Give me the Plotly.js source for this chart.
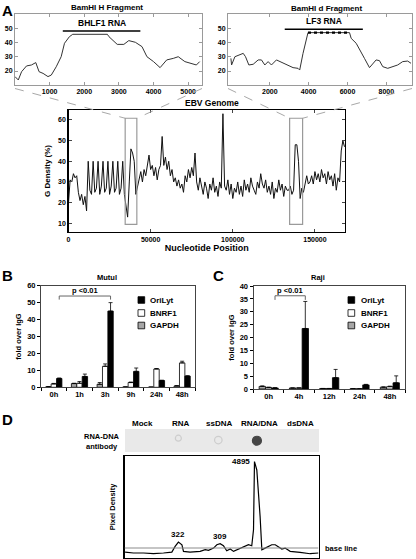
<!DOCTYPE html>
<html><head><meta charset="utf-8">
<script src="https://cdn.plot.ly/plotly-3.0.1.min.js"></script>
<style>html,body{margin:0;padding:0;background:#fff}#chart{width:416px;height:559px}</style>
</head><body><div id="chart"></div>
<script>
// ---------- Panel A: BamHI H fragment ----------
const hPos = [0,95,190,333,476,600,695,810,952,1048,1190,1333,1429,1571,1667,2000,2300,2667,2714,2952,3143,3286,3476,3667,3810,4000,4190,4381,4571,4714,4905,5095,5238,5333];
const hG   = [16,13.6,19.5,23.6,24.3,26,19.5,18.3,16,17.1,23,30.2,39.8,44.5,46.2,46.2,46.2,46.2,44.5,39,39,41.7,40.5,37.4,30.2,26.7,22.4,27.9,29,30.2,26.7,25.5,24.3,26.7];
const bhlf1Span = [1380, 3620];
const bhlf1Level = 48.6;
// ---------- Panel A: BamHI d fragment ----------
const dPos = [0,34,205,462,633,752,923,1146,1402,1573,1744,1915,2086,2343,2514,2685,2941,3198,3454,3540,3711,3967,6105,6190,6447,6618,6874,7131,7302,7473,7644,7815,8071,8328,8584,8841,9097,9268];
const dG   = [29,24.3,30.2,31.9,32.6,30.2,24.3,24.8,27.9,27.9,24.3,26.7,24.3,27.9,26.7,25.5,24.3,22.4,21.9,20.7,32.6,47.4,47.4,43.3,39.8,35,29,22.4,25.5,27.9,27.4,23.1,21.9,23.1,24.3,26.7,27.1,25.5];
const lf3Plateau = [3967, 6105];
const lf3PlateauLevel = 47.4;
const lf3Span = [2770, 6790];
const lf3Level = 49.8;
// ---------- Panel A: EBV genome (1 kb steps) ----------
const genomeStep = 1000;
const genomeG = [
20,31,30,34,32,33,25,21,24,19,
23,16,40,26,24,40,25,27,40,24,
28,40,25,27,40,24,28,40,25,27,
40,24,27,40,24,18,13,30,46,44,
40,24,28,32,35,30,36,33,38,43,
36,38,33,37,31,36,38,52,38,42,
36,40,33,36,30,32,28,31,27,29,
25,33,30,36,32,37,33,44,30,26,
32,28,24,30,27,22,29,26,32,25,
28,23,30,27,63,28,26,31,24,29,
22,27,25,30,24,28,23,31,26,29,
25,32,28,26,24,30,27,34,29,27,
31,25,28,24,30,22,27,25,31,26,
29,23,28,26,26,28,24,26,48,48,
40,22,27,25,30,33,29,30,33,29,
35,31,34,30,36,32,34,29,35,31,
33,28,34,26,32,30,45,50,47];
const genomeLength = 168300;
const fragH = [34500, 41600];
const fragD = [134600, 142500];
const fragBoxY = [9.5, 60.8];
// ---------- Panel B: Mutu I ----------
const timesB = ['0h','1h','3h','9h','24h','48h'];
const mutuOriLyt    = [5.2,6.4,45,9.4,4.0,6.6];
const mutuOriLytErr = [0.3,1.4,5.0,2.0,0.2,0.2];
const mutuBNRF1     = [2.0,2.4,12.4,2.8,10.8,14.4];
const mutuBNRF1Err  = [0.3,1.0,1.4,0.3,0.3,1.0];
const mutuGAPDH     = [0.3,2.2,1.8,0.2,0.1,0.8];
const mutuGAPDHErr  = [0.1,0.2,1.0,0,0,0.2];
// ---------- Panel C: Raji ----------
const timesC = ['0h','4h','12h','24h','48h'];
const rajiOriLyt    = [0.4,23.5,4.4,1.6,2.4];
const rajiOriLytErr = [0.1,10.5,3.2,0.2,2.7];
const rajiBNRF1     = [0.6,0.4,0.2,0.1,0.9];
const rajiBNRF1Err  = [0.1,0,0,0,0.2];
const rajiGAPDH     = [1.0,0.4,0.2,0.1,0.7];
const rajiGAPDHErr  = [0.2,0,0,0,0.1];
// ---------- Panel D ----------
const lanes = ['Mock','RNA','ssDNA','RNA/DNA','dsDNA'];
const laneX = [8.9,28.7,48.5,69.1,90.5];
const spotX = [27.5,48.1,68.0];
const spotY = [0.6,0.52,0.49];
const spotSignal = [322,309,4895];
const scanX = [0.3,4.6,9.8,14.9,20.1,24.4,26.1,27.8,29.6,30.4,33.8,39.0,41.6,43.3,45.9,47.6,49.3,51.0,52.7,54.5,56.2,58.8,61.3,63.9,65.6,66.5,67.0,68.2,69.9,70.8,72.5,74.2,75.9,77.7,79.4,81.1,82.8,85.4,90.5,95.7,100];
const scanY = [5.8,4.9,4.9,4.2,4.9,5.8,11.4,15.6,13.0,6.5,5.8,6.5,8.1,7.5,9.7,13.0,14.0,12.0,7.1,8.8,6.5,8.8,11.4,13.0,12.0,27.7,94.5,86.3,40.7,8.1,9.7,11.4,13.0,13.0,10.7,8.8,9.7,6.5,5.5,4.2,4.9];
const peakLabels = ['322','309','4895'];
const peakX = [27.8,49.3,67.0];
const peakY = [15.6,14.0,94.5];
const baselineLevel = 9.8;

// ================= layout helpers =================
const W = 416, H = 559;
const px = v => v / W;
const py = v => 1 - v / H;
const FONT = '"Liberation Sans", Arial, Helvetica, sans-serif';
const f = (size, extra) => Object.assign({family: FONT, size: size, color: '#000', weight: 'bold'}, extra || {});
const BARGAP = 0.37;

const dom = {
  x1: [px(15), px(202)],   y1: [py(85), py(14)],
  x2: [px(228), px(412)],  y2: [py(85), py(14)],
  x3: [px(68.5), px(345)], y3: [py(232), py(110)],
  x4: [px(41), px(195)],   y4: [py(387.3), py(285.7)],
  x5: [px(253.5), px(405)],y5: [py(389), py(286)],
  x6: [px(125), px(319)],  y6: [py(452), py(429)],
  x7: [px(124.5), px(318.5)], y7: [py(558), py(456)]
};
const r3x = [0, genomeLength], r3y = [5.8, 64.8];

const zeros = a => a.map(() => 0);
const genomeX = genomeG.map((_, i) => i * genomeStep);

const traces = [];
traces.push({x: hPos, y: hG, xaxis: 'x', yaxis: 'y', type: 'scatter', mode: 'lines', line: {color: '#333', width: 1}, showlegend: false});
traces.push({x: dPos, y: dG, xaxis: 'x2', yaxis: 'y2', type: 'scatter', mode: 'lines', line: {color: '#333', width: 1}, showlegend: false});
traces.push({x: lf3Plateau, y: [lf3PlateauLevel, lf3PlateauLevel], xaxis: 'x2', yaxis: 'y2', type: 'scatter', mode: 'lines', line: {color: '#000', width: 2.4, dash: 'dot'}, showlegend: false});
traces.push({x: genomeX, y: genomeG, xaxis: 'x3', yaxis: 'y3', type: 'scatter', mode: 'lines', line: {color: '#111', width: 1}, showlegend: false});

const seriesNames = ['GAPDH', 'BNRF1', 'OriLyt'];
const seriesFill = ['#a6a6a6', '#ffffff', '#000000'];
const mutu = [[mutuGAPDH, mutuGAPDHErr], [mutuBNRF1, mutuBNRF1Err], [mutuOriLyt, mutuOriLytErr]];
const raji = [[rajiGAPDH, rajiGAPDHErr], [rajiBNRF1, rajiBNRF1Err], [rajiOriLyt, rajiOriLytErr]];
function bar(cats, vals, err, i, xa, ya) {
  return {type: 'bar', x: cats, y: vals, xaxis: xa, yaxis: ya, name: seriesNames[i], showlegend: false,
    marker: {color: seriesFill[i], line: {color: '#000', width: 0.8}},
    error_y: {type: 'data', symmetric: false, array: err, arrayminus: zeros(err), color: '#000', thickness: 0.8, width: 2}};
}
mutu.forEach((s, i) => traces.push(bar(timesB, s[0], s[1], i, 'x4', 'y4')));
raji.forEach((s, i) => traces.push(bar(timesC, s[0], s[1], i, 'x5', 'y5')));

traces.push({x: spotX, y: spotY, xaxis: 'x6', yaxis: 'y6', type: 'scatter', mode: 'markers', showlegend: false,
  marker: {size: spotSignal.map(s => s > 1000 ? 9 : (s > 315 ? 6 : 7.5)),
    color: spotSignal.map(s => s > 1000 ? '#000' : 'rgba(0,0,0,0)'),
    line: {color: spotSignal.map(s => s > 1000 ? '#000' : '#c2c2c2'), width: 1.2}}});
traces.push({x: scanX, y: scanY, xaxis: 'x7', yaxis: 'y7', type: 'scatter', mode: 'lines', line: {color: '#000', width: 1.2}, showlegend: false});

// ---------- axes ----------
const topAx = (d, extra) => Object.assign({domain: d, showgrid: false, zeroline: false, showline: true, mirror: 'ticks', linecolor: '#9a9a9a', linewidth: 1,
  ticks: 'inside', ticklen: 3, tickcolor: '#9a9a9a', tickfont: f(7), exponentformat: 'none'}, extra);
const barY = (d, range, dtick, anchor) => ({domain: d, range: range, dtick: dtick, anchor: anchor, showgrid: false, zeroline: false, showline: true, mirror: true,
  linecolor: '#444', linewidth: 1, ticks: 'outside', ticklen: 3, tickcolor: '#000', tickfont: f(7.5),
  title: {text: 'fold over IgG', font: f(7.5), standoff: 4}});
const barX = (d, n, anchor) => ({domain: d, type: 'category', range: [-0.5, n - 0.5], anchor: anchor, showgrid: false, zeroline: false, showline: true, mirror: true,
  linecolor: '#444', linewidth: 1, ticks: 'outside', tickson: 'boundaries', ticklen: 3, tickcolor: '#000', tickfont: f(7.5)});

const layout = {
  width: W, height: H, margin: {l: 0, r: 0, t: 0, b: 0}, paper_bgcolor: '#fff', plot_bgcolor: 'rgba(0,0,0,0)',
  barmode: 'group', bargap: BARGAP, bargroupgap: 0, showlegend: false, font: f(8),
  xaxis: topAx(dom.x1, {range: [0, 5400], tickvals: [1000, 2000, 3000, 4000, 5000], anchor: 'y'}),
  yaxis: topAx(dom.y1, {range: [10, 60.7], tickvals: [20, 30, 40, 50], anchor: 'x'}),
  xaxis2: topAx(dom.x2, {range: [-150, 9320], tickvals: [2000, 4000, 6000, 8000], anchor: 'y2'}),
  yaxis2: topAx(dom.y2, {range: [10, 60.7], tickvals: [20, 30, 40, 50], anchor: 'x2'}),
  xaxis3: {domain: dom.x3, range: r3x, anchor: 'y3', tickvals: [0, 50000, 100000, 150000], tickformat: 'd', exponentformat: 'none', showgrid: false, zeroline: false, showline: true, mirror: 'ticks',
    linecolor: '#000', linewidth: 1.2, ticks: 'inside', ticklen: 3, tickfont: f(7), title: {text: 'Nucleotide Position', font: f(9), standoff: 3}},
  yaxis3: {domain: dom.y3, range: r3y, anchor: 'x3', tickvals: [10, 20, 30, 40, 50, 60], showgrid: false, zeroline: false, showline: true, mirror: 'ticks',
    linecolor: '#000', linewidth: 1.2, ticks: 'inside', ticklen: 3, tickfont: f(7), title: {text: 'G Density (%)', font: f(8), standoff: 6}},
  xaxis4: barX(dom.x4, timesB.length, 'y4'),
  yaxis4: barY(dom.y4, [0, 60], 10, 'x4'),
  xaxis5: barX(dom.x5, timesC.length, 'y5'),
  yaxis5: barY(dom.y5, [0, 40], 5, 'x5'),
  xaxis6: {domain: dom.x6, range: [0, 100], anchor: 'y6', visible: false},
  yaxis6: {domain: dom.y6, range: [0, 1], anchor: 'x6', visible: false},
  xaxis7: {domain: dom.x7, range: [0, 100], anchor: 'y7', showgrid: false, zeroline: false, showline: true, mirror: true, linecolor: '#000', linewidth: 1.3, showticklabels: false, ticks: ''},
  yaxis7: {domain: dom.y7, range: [0, 100], anchor: 'x7', showgrid: false, zeroline: false, showline: true, mirror: true, linecolor: '#000', linewidth: 1.3, showticklabels: false, ticks: '',
    title: {text: 'Pixel Density', font: f(7.5), standoff: 6}},
  shapes: [], annotations: []
};

// genome data -> paper coords (for connector lines)
const gx = v => dom.x3[0] + (v - r3x[0]) / (r3x[1] - r3x[0]) * (dom.x3[1] - dom.x3[0]);
const gy = v => dom.y3[0] + (v - r3y[0]) / (r3y[1] - r3y[0]) * (dom.y3[1] - dom.y3[0]);

// transcript spans
layout.shapes.push({type: 'line', xref: 'x', yref: 'y', x0: bhlf1Span[0], x1: bhlf1Span[1], y0: bhlf1Level, y1: bhlf1Level, line: {color: '#000', width: 1.5}});
layout.shapes.push({type: 'line', xref: 'x2', yref: 'y2', x0: lf3Span[0], x1: lf3Span[1], y0: lf3Level, y1: lf3Level, line: {color: '#000', width: 1.5}});
// fragment boxes on genome
[fragH, fragD].forEach(fr => layout.shapes.push({type: 'rect', xref: 'x3', yref: 'y3', x0: fr[0], x1: fr[1], y0: fragBoxY[0], y1: fragBoxY[1], line: {color: '#9a9a9a', width: 1.2}}));
// dashed connectors
const connectY = py(88.5);
[[dom.x1[0], fragH[0]], [dom.x1[1], fragH[1]], [dom.x2[0], fragD[0]], [dom.x2[1], fragD[1]]].forEach(c => layout.shapes.push({
  type: 'line', xref: 'paper', yref: 'paper', x0: c[0], y0: connectY, x1: gx(c[1]), y1: gy(fragBoxY[1]), line: {color: '#a8a8a8', width: 1, dash: 'dash'}}));
// blot background
layout.shapes.push({type: 'rect', xref: 'x6', yref: 'y6', x0: 0, x1: 100, y0: 0, y1: 1, fillcolor: '#e9e9e9', line: {width: 0}, layer: 'below'});
// baseline
layout.shapes.push({type: 'line', xref: 'x7', yref: 'y7', x0: 0, x1: 100, y0: baselineLevel, y1: baselineLevel, line: {color: '#8c8c8c', width: 1.2}});

// significance brackets (OriLyt bars)
const bw = (1 - BARGAP) / 3;
function bracket(xa, ya, i0, i1, top, leg) {
  const a = i0 + bw, b = i1 + bw;
  layout.shapes.push({type: 'path', xref: xa, yref: ya, path: `M ${a} ${leg} L ${a} ${top} L ${b} ${top} L ${b} ${leg}`, line: {color: '#666', width: 1}});
  layout.annotations.push({xref: xa, yref: ya, x: (a + b) / 2, y: top, text: 'p <0.01', showarrow: false, yanchor: 'bottom', yshift: -1, font: f(7.5)});
}
bracket('x4', 'y4', 0, 2, 53.9, 51.8);
bracket('x5', 'y5', 0, 1, 36.2, 34.6);

// custom legends
const legendOrder = [2, 1, 0];
function legend(sx, tx, rows) {
  legendOrder.forEach((si, k) => {
    const cy = rows[k];
    layout.shapes.push({type: 'rect', xref: 'paper', yref: 'paper', x0: px(sx), x1: px(sx + 6.7), y0: py(cy + 3.3), y1: py(cy - 3.3),
      fillcolor: seriesFill[si], line: {color: '#000', width: 0.8}});
    layout.annotations.push({xref: 'paper', yref: 'paper', x: px(tx), y: py(cy), text: seriesNames[si], showarrow: false, xanchor: 'left', yanchor: 'middle', font: f(8)});
  });
}
legend(138, 148, [300, 313, 325.5]);
legend(348, 358.5, [300, 313, 325.5]);

// text annotations
const A = (x, y, text, size, extra) => layout.annotations.push(Object.assign({xref: 'paper', yref: 'paper', x: px(x), y: py(y), text: text, showarrow: false,
  xanchor: 'center', yanchor: 'middle', font: f(size)}, extra || {}));
A(0, 0, 'A', 15, {xanchor: 'left', yanchor: 'top'});
A(0, 265, 'B', 15, {xanchor: 'left', yanchor: 'top'});
A(211, 265, 'C', 15, {xanchor: 'left', yanchor: 'top'});
A(0, 409, 'D', 15, {xanchor: 'left', yanchor: 'top'});
A(107, 8, 'BamHI H Fragment', 8);
A(326, 9, 'BamHI d Fragment', 8);
A(211.7, 103.5, 'EBV Genome', 8.5);
A(107, 277, 'Mutul', 7.5);
A(318, 278, 'Raji', 7.5);
A(102, 436.5, 'RNA-DNA', 7.5);
A(102, 446.5, 'antibody', 7.5);
layout.annotations.push({xref: 'x', yref: 'y', x: (bhlf1Span[0] + bhlf1Span[1]) / 2, y: bhlf1Level, text: 'BHLF1 RNA', showarrow: false, yanchor: 'bottom', yshift: 1, font: f(8.5)});
layout.annotations.push({xref: 'x2', yref: 'y2', x: (lf3Span[0] + lf3Span[1]) / 2, y: lf3Level, text: 'LF3 RNA', showarrow: false, yanchor: 'bottom', yshift: 1, font: f(8.5)});
lanes.forEach((l, i) => layout.annotations.push({xref: 'x6', yref: 'paper', x: laneX[i], y: py(423.5), text: l, showarrow: false, yanchor: 'middle', font: f(8)}));
peakLabels.forEach((t, i) => layout.annotations.push({xref: 'x7', yref: 'y7', x: peakX[i], y: peakY[i], text: t, showarrow: false,
  xanchor: i === 2 ? 'right' : 'center', yanchor: i === 2 ? 'middle' : 'bottom', xshift: i === 2 ? -2 : 0, yshift: i === 2 ? 0 : 1, font: f(8)}));
layout.annotations.push({xref: 'paper', yref: 'y7', x: px(323), y: baselineLevel, text: 'base line', showarrow: false, xanchor: 'left', yanchor: 'middle', font: f(7.5)});

Plotly.newPlot('chart', traces, layout, {staticPlot: true, displayModeBar: false});
</script></body></html>
